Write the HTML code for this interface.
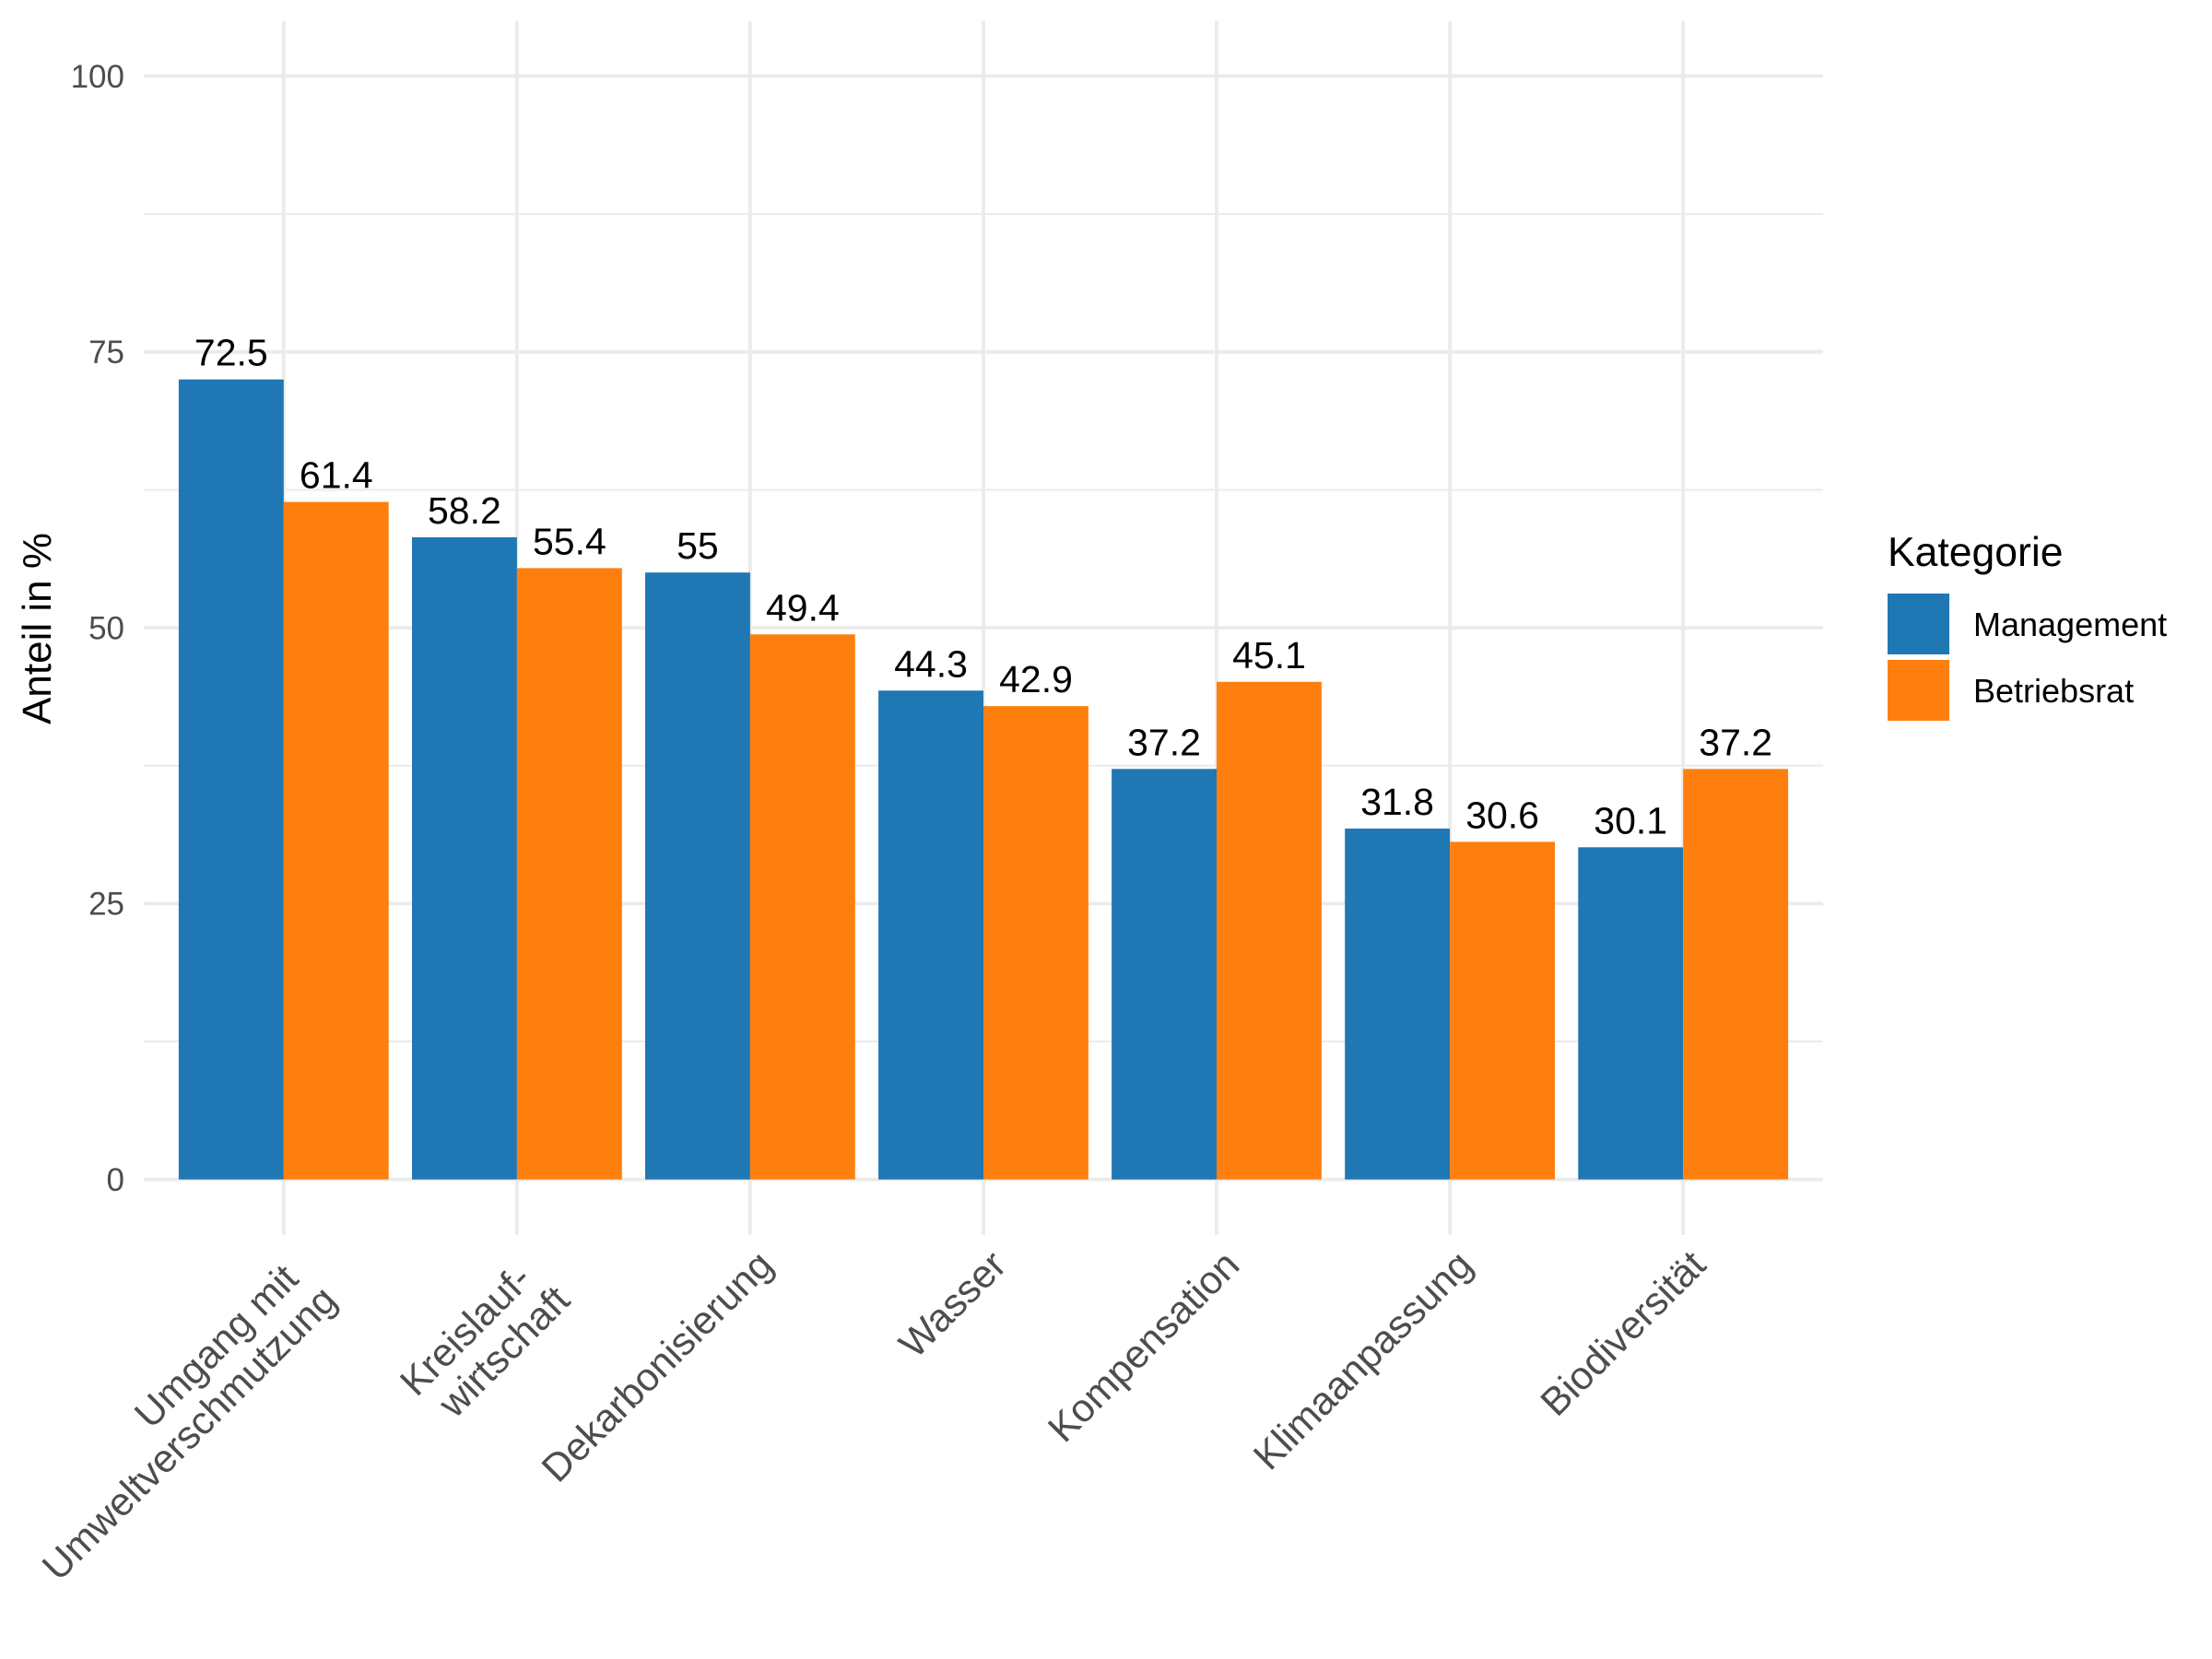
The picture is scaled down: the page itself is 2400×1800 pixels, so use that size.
<!DOCTYPE html>
<html>
<head>
<meta charset="utf-8">
<style>
html,body{margin:0;padding:0;background:#fff;}
svg{display:block;}
text{font-family:"Liberation Sans",Arial,sans-serif;}
</style>
</head>
<body>
<svg width="2400" height="1800" viewBox="0 0 2400 1800" xmlns="http://www.w3.org/2000/svg">
<rect x="0" y="0" width="2400" height="1800" fill="#ffffff"/>
<!-- minor gridlines -->
<g stroke="#EBEBEB" stroke-width="2">
<line x1="156" x2="1978" y1="1130.05" y2="1130.05"/>
<line x1="156" x2="1978" y1="830.75" y2="830.75"/>
<line x1="156" x2="1978" y1="531.45" y2="531.45"/>
<line x1="156" x2="1978" y1="232.15" y2="232.15"/>
</g>
<!-- major gridlines -->
<g stroke="#EBEBEB" stroke-width="3.8">
<line x1="156" x2="1978" y1="1279.7" y2="1279.7"/>
<line x1="156" x2="1978" y1="980.4" y2="980.4"/>
<line x1="156" x2="1978" y1="681.1" y2="681.1"/>
<line x1="156" x2="1978" y1="381.8" y2="381.8"/>
<line x1="156" x2="1978" y1="82.5" y2="82.5"/>
<line x1="307.8" x2="307.8" y1="22.6" y2="1340"/>
<line x1="560.9" x2="560.9" y1="22.6" y2="1340"/>
<line x1="813.9" x2="813.9" y1="22.6" y2="1340"/>
<line x1="1067.0" x2="1067.0" y1="22.6" y2="1340"/>
<line x1="1320.0" x2="1320.0" y1="22.6" y2="1340"/>
<line x1="1573.1" x2="1573.1" y1="22.6" y2="1340"/>
<line x1="1826.2" x2="1826.2" y1="22.6" y2="1340"/>
</g>
<!-- bars Management -->
<g fill="#1F77B4">
<rect x="193.9" y="411.7" width="113.9" height="868.0"/>
<rect x="447.0" y="582.9" width="113.9" height="696.8"/>
<rect x="700.0" y="621.2" width="113.9" height="658.5"/>
<rect x="953.1" y="749.3" width="113.9" height="530.4"/>
<rect x="1206.1" y="834.3" width="113.9" height="445.4"/>
<rect x="1459.2" y="899.0" width="113.9" height="380.7"/>
<rect x="1712.3" y="919.3" width="113.9" height="360.4"/>
</g>
<!-- bars Betriebsrat -->
<g fill="#FF7F0E">
<rect x="307.8" y="544.6" width="113.9" height="735.1"/>
<rect x="560.9" y="616.4" width="113.9" height="663.3"/>
<rect x="813.9" y="688.3" width="113.9" height="591.4"/>
<rect x="1067.0" y="766.1" width="113.9" height="513.6"/>
<rect x="1320.0" y="739.8" width="113.9" height="539.9"/>
<rect x="1573.1" y="913.4" width="113.9" height="366.3"/>
<rect x="1826.2" y="834.3" width="113.9" height="445.4"/>
</g>
<!-- bar labels -->
<g font-size="41" fill="#000000" text-anchor="middle">
<text x="250.8" y="396.7">72.5</text>
<text x="364.8" y="529.6">61.4</text>
<text x="503.9" y="567.9">58.2</text>
<text x="617.9" y="601.4">55.4</text>
<text x="756.9" y="606.2">55</text>
<text x="870.9" y="673.3">49.4</text>
<text x="1010.0" y="734.3">44.3</text>
<text x="1124.0" y="751.1">42.9</text>
<text x="1263.0" y="819.3">37.2</text>
<text x="1377.0" y="724.8">45.1</text>
<text x="1516.1" y="884.0">31.8</text>
<text x="1630.1" y="898.4">30.6</text>
<text x="1769.2" y="904.3">30.1</text>
<text x="1883.2" y="819.3">37.2</text>
</g>
<!-- y tick labels -->
<g font-size="35" fill="#4D4D4D" text-anchor="end">
<text x="135" y="1292">0</text>
<text x="135" y="992.7">25</text>
<text x="135" y="693.4">50</text>
<text x="135" y="394.1">75</text>
<text x="135" y="94.8">100</text>
</g>
<!-- y axis title -->
<text x="55" y="682" font-size="44" fill="#000" text-anchor="middle" transform="rotate(-90 55 682)">Anteil in %</text>
<!-- x labels -->
<g font-size="42.5" fill="#4D4D4D" text-anchor="end">
<g transform="translate(335 1375) rotate(-45)"><text x="-17" y="4">Umgang mit</text><text x="-4" y="50">Umweltverschmutzung</text></g>
<g transform="translate(588 1375) rotate(-45)"><text x="-17" y="4">Kreislauf-</text><text x="-4" y="50">wirtschaft</text></g>
<g transform="translate(841 1375) rotate(-45)"><text x="0" y="0">Dekarbonisierung</text></g>
<g transform="translate(1094 1375) rotate(-45)"><text x="0" y="0">Wasser</text></g>
<g transform="translate(1347 1375) rotate(-45)"><text x="0" y="0">Kompensation</text></g>
<g transform="translate(1600 1375) rotate(-45)"><text x="0" y="0">Klimaanpassung</text></g>
<g transform="translate(1853 1375) rotate(-45)"><text x="0" y="0">Biodiversität</text></g>
</g>
<!-- legend -->
<text x="2048" y="614" font-size="44.5" fill="#000">Kategorie</text>
<rect x="2048" y="644" width="67" height="66" fill="#1F77B4"/>
<rect x="2048" y="716" width="67" height="66" fill="#FF7F0E"/>
<text x="2141" y="690" font-size="36" fill="#000">Management</text>
<text x="2141" y="762" font-size="36" fill="#000">Betriebsrat</text>
</svg>
</body>
</html>
